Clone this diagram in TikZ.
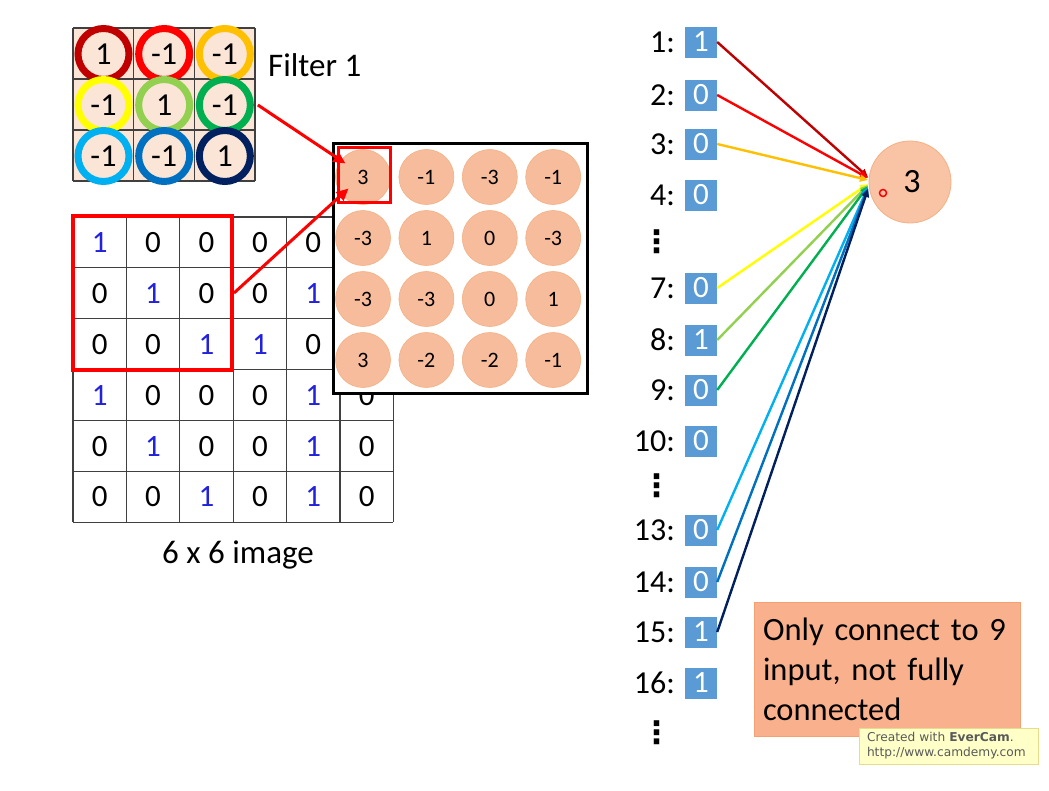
\documentclass[tikz,border=0pt]{standalone}
\usepackage{fontspec}
\setmainfont{Carlito}
\newfontfamily\wmfont{DejaVu Sans}
\newfontfamily\dotfont{DejaVu Sans}
\usetikzlibrary{arrows.meta}
\definecolor{peach}{HTML}{FBE5D6}
\definecolor{fmfill}{HTML}{F6BC9C}
\definecolor{fmedge}{HTML}{F4B183}
\definecolor{outfill}{HTML}{F9C3A6}
\definecolor{inblue}{HTML}{5B9BD5}
\definecolor{oneblue}{HTML}{2222DD}
\definecolor{notefill}{HTML}{F9B08C}
\definecolor{noteedge}{HTML}{F4A070}
\definecolor{wmfill}{HTML}{FFFFC8}
\definecolor{wmedge}{HTML}{E6DC8C}
\definecolor{c1}{HTML}{C00000}
\definecolor{c2}{HTML}{FF0000}
\definecolor{c3}{HTML}{FFC000}
\definecolor{c4}{HTML}{FFFF00}
\definecolor{c5}{HTML}{92D050}
\definecolor{c6}{HTML}{00B050}
\definecolor{c7}{HTML}{00B0F0}
\definecolor{c8}{HTML}{0070C0}
\definecolor{c9}{HTML}{002060}
\begin{document}
\begin{tikzpicture}[x=1pt,y=-1pt,
  every node/.style={inner sep=0pt},
  gline/.style={draw=black!75, line width=1.1pt},
  imgnum/.style={font=\fontsize{31}{34}\selectfont},
  ring/.style={circle, line width=7pt, fill=peach, minimum size=51pt, font=\fontsize{32}{34}\selectfont},
  fmcirc/.style={circle, fill=fmfill, draw=fmedge, line width=0.6pt, minimum size=55pt, font=\fontsize{22}{24}\selectfont},
  idx/.style={anchor=east, font=\fontsize{32}{34}\selectfont},
  inbox/.style={fill=inblue, text=white, minimum width=32pt, minimum height=31pt, font=\fontsize{31}{32}\selectfont},
  conn/.style={line width=2.4pt, -{Triangle[length=8pt,width=7pt]}},
  redarrow/.style={draw=red, line width=3pt, -{Triangle[length=12pt,width=11pt]}},
  vdotsnode/.style={font=\dotfont\bfseries\fontsize{31}{32}\selectfont},
  bigtext/.style={font=\fontsize{33}{36}\selectfont},
]
\useasboundingbox[fill=white] (0,0) rectangle (1049,790);

% ---------- Filter ----------
\fill[peach] (73,28) rectangle (255,181);
\foreach \i in {0,1,2,3} \draw[gline] ({73+60.67*\i},28) -- ({73+60.67*\i},181);
\foreach \j in {0,1,2,3} \draw[gline] (73,{28+51*\j}) -- (255,{28+51*\j});
\foreach \r/\c/\v/\col in {1/1/1/c1, 1/2/-1/c2, 1/3/-1/c3,
                          2/1/-1/c4, 2/2/1/c5, 2/3/-1/c6,
                          3/1/-1/c7, 3/2/-1/c8, 3/3/1/c9}
  \node[ring, draw=\col] (f\r\c) at ({103.5+60.67*(\c-1)},{54+51*(\r-1)}) {\v};
\node[bigtext, anchor=west] (ftitle) at (268,65) {Filter 1};

% ---------- 6x6 image ----------
\foreach \i in {0,...,6} \draw[gline] ({73+53.4*\i},217) -- ({73+53.4*\i},522.4);
\foreach \j in {0,...,6} \draw[gline] (73,{217+50.9*\j}) -- (393.4,{217+50.9*\j});
\foreach \row [count=\r] in {{1,0,0,0,0,-},{0,1,0,0,1,-},{0,0,1,1,0,-},{1,0,0,0,1,0},{0,1,0,0,1,0},{0,0,1,0,1,0}} {
  \foreach \v [count=\c] in \row {
    \if\v-\else
      \def\tcol{black}\ifnum\v=1 \def\tcol{oneblue}\fi
      \node[imgnum, text=\tcol] (g\r\c) at ({73+53.4*(\c-0.5)},{217+50.9*(\r-0.5)}) {\v};
    \fi
  }
}
\node[bigtext] (imgcap) at (238,555) {6 x 6 image};
\node[draw=red, line width=4pt, minimum width=159pt, minimum height=154pt] (win) at (152.5,293) {};

% ---------- feature map ----------
\node[draw=black, line width=3pt, fill=white, minimum width=254pt, minimum height=250pt] (fm) at (460,268) {};
\foreach \row [count=\r] in {{3,-1,-3,-1},{-3,1,0,-3},{-3,-3,0,1},{3,-2,-2,-1}} {
  \foreach \v [count=\c] in \row {
    \node[fmcirc] (m\r\c) at ({363+63.4*(\c-1)},{177+61*(\r-1)}) {\v};
  }
}
\node[draw=red, line width=3pt, minimum width=52pt, minimum height=55pt] (sel) at (364,174.5) {};
\draw[redarrow] ([xshift=4pt]f23.east) -- ([shift={(9,-11)}]sel.west);
\draw[redarrow] (win.east) -- ([shift={(12,14)}]sel.west);

% ---------- right side ----------
\foreach \n/\yy/\v in {1/42/1, 2/95/0, 3/144/0, 4/195/0, 7/288/0, 8/340/1, 9/390/0, 10/441/0, 13/530/0, 14/582/0, 15/632/1, 16/683/1} {
  \node[idx] (l\n) at (675,\yy) {\n:};
  \node[inbox] (b\n) at (701,\yy) {\v};
}
\node[vdotsnode] (d1) at (657,242) {⋮};
\node[vdotsnode] (d2) at (657,486) {⋮};
\node[vdotsnode] (d3) at (657,733) {⋮};

\node[circle, fill=outfill, draw=fmedge, line width=0.8pt, minimum size=82pt, font=\fontsize{34}{36}\selectfont] (out) at (910,182) {\hspace*{4pt}3};
\node[circle, draw=red, line width=1.5pt, minimum size=7pt] (cursor) at (883,193) {};

\foreach \n/\c/\ty in {1/c1/177, 2/c2/178, 3/c3/180, 7/c4/184, 8/c5/185, 9/c6/186, 13/c7/187, 14/c8/188, 15/c9/189} {
  \coordinate (e\n) at (868,\ty);
  \draw[conn, draw=\c] (b\n.east) -- (e\n);
}

\node[fill=notefill, draw=noteedge, line width=0.8pt, minimum width=266pt, minimum height=134pt,
      text width=248pt, align=left, font=\fontsize{32.5}{40}\selectfont] (note) at (887,669)
      {Only connect to 9\\input, not fully\\connected};

\node[fill=wmfill, draw=wmedge, line width=1pt, minimum width=179pt, minimum height=36pt,
      text width=163pt, align=left, text=black!65, font={\wmfont\fontsize{12.2}{15}\selectfont}] (wm) at (948.5,746)
      {Created with \textbf{EverCam}.\\http://www.camdemy.com};
\end{tikzpicture}
\end{document}
